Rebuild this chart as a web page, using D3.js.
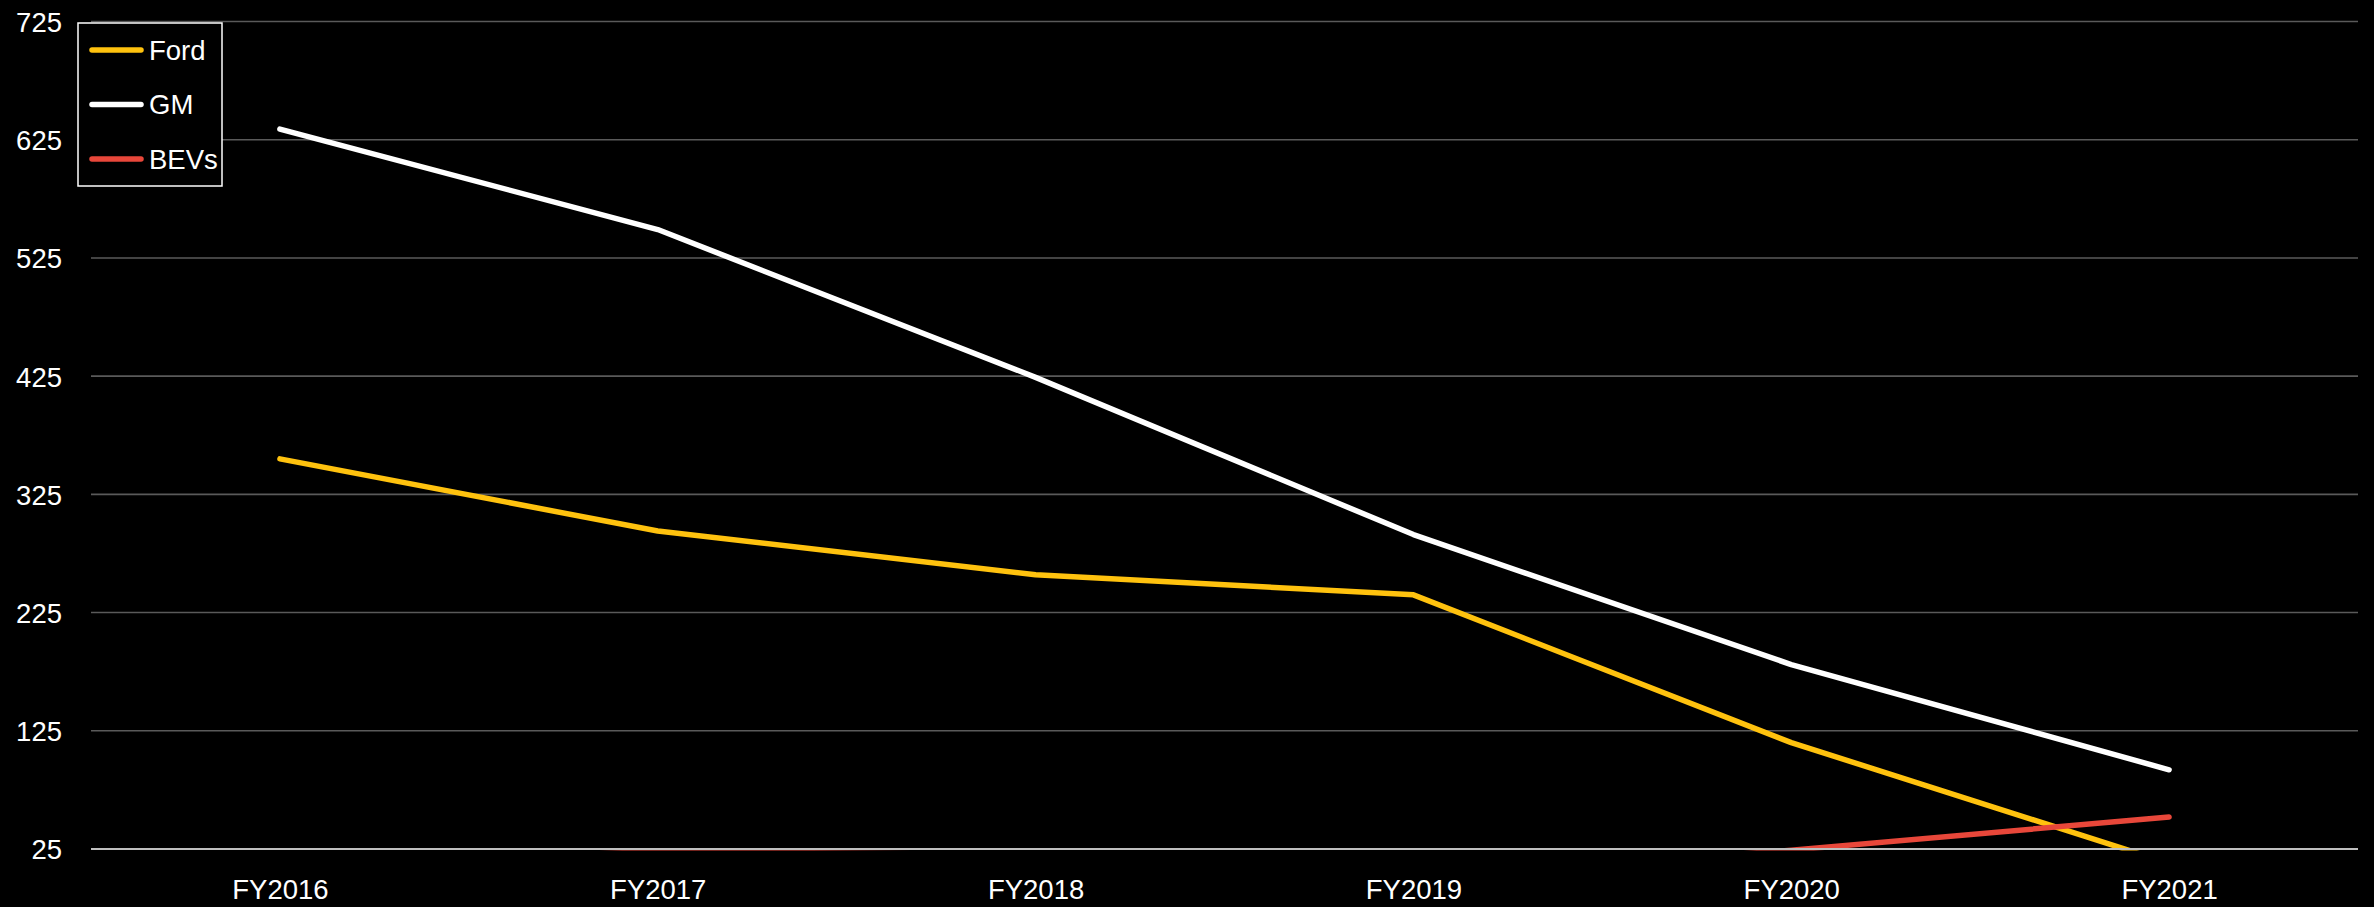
<!DOCTYPE html>
<html>
<head>
<meta charset="utf-8">
<script src="https://cdn.jsdelivr.net/npm/d3@7"></script>
<style>
  html, body { margin: 0; padding: 0; background: #000; }
  svg { display: block; }
  text { font-family: "Liberation Sans", Arial, sans-serif; fill: #fff; }
</style>
</head>
<body>
<svg id="chart" width="2374" height="907"></svg>
<script>
const categories = ["FY2016", "FY2017", "FY2018", "FY2019", "FY2020", "FY2021"];
const fordValues = [355, 294, 257, 240, 115, 13];
const gmValues   = [634, 549, 424, 291, 181, 92];
const bevValues  = [10, 23, 20, 0, 24, 52];
const yTicks = [25, 125, 225, 325, 425, 525, 625, 725];
const seriesNames = ["Ford", "GM", "BEVs"];
const seriesColors = ["#FFC20E", "#FFFFFF", "#E8473A"];

const series = [
  { name: seriesNames[0], values: fordValues, color: seriesColors[0] },
  { name: seriesNames[1], values: gmValues,   color: seriesColors[1] },
  { name: seriesNames[2], values: bevValues,  color: seriesColors[2] }
];

const W = 2374, H = 907;
const plot = { left: 91, right: 2358, top: 21.5, bottom: 849 };
const FS = 27.5;

const svg = d3.select("#chart");

const x = d3.scalePoint()
  .domain(categories)
  .range([plot.left, plot.right])
  .padding(0.5);

const y = d3.scaleLinear()
  .domain([25, 725])
  .range([plot.bottom, plot.top]);

// gridlines
const grid = svg.append("g");
grid.selectAll("line")
  .data(yTicks.filter(d => d !== 25))
  .join("line")
  .attr("x1", plot.left).attr("x2", plot.right)
  .attr("y1", d => y(d)).attr("y2", d => y(d))
  .attr("stroke", "#5a5a5a")
  .attr("stroke-width", 1.6);

// y axis labels
const yAxis = d3.axisLeft(y).tickValues(yTicks).tickSize(0).tickPadding(0);
const yg = svg.append("g")
  .attr("transform", `translate(62,0)`)
  .call(yAxis);
yg.select(".domain").remove();
yg.selectAll("text")
  .attr("font-size", FS)
  .attr("fill", "#fff")
  .attr("font-family", "Liberation Sans, Arial, sans-serif")
  .attr("dy", "0.36em");

// clip
svg.append("clipPath").attr("id", "plotclip")
  .append("rect")
  .attr("x", plot.left - 5).attr("y", 0)
  .attr("width", plot.right - plot.left + 10)
  .attr("height", plot.bottom + 1.5);

// lines
const line = d3.line()
  .x((d, i) => x(categories[i]))
  .y(d => y(d));

const lg = svg.append("g").attr("clip-path", "url(#plotclip)");
[series[1], series[0], series[2]].forEach(s => {
  lg.append("path")
    .datum(s.values)
    .attr("d", line)
    .attr("fill", "none")
    .attr("stroke", s.color)
    .attr("stroke-width", 5.5)
    .attr("stroke-linejoin", "round")
    .attr("stroke-linecap", "round");
});

// bottom axis line
const xAxis = d3.axisBottom(x).tickSize(0).tickPadding(0);
const xg = svg.append("g")
  .attr("transform", `translate(0,${plot.bottom})`)
  .call(xAxis);
xg.select(".domain")
  .attr("d", `M${plot.left},0H${plot.right}`)
  .attr("stroke", "#BFBFBF")
  .attr("stroke-width", 1.8);
xg.selectAll("text")
  .attr("font-size", FS)
  .attr("fill", "#fff")
  .attr("font-family", "Liberation Sans, Arial, sans-serif")
  .attr("y", 50)
  .attr("dy", 0);

// legend
const legend = svg.append("g");
legend.append("rect")
  .attr("x", 78).attr("y", 23)
  .attr("width", 144).attr("height", 163)
  .attr("fill", "#000")
  .attr("stroke", "#fff")
  .attr("stroke-width", 1.5);
const ly = d3.scalePoint().domain(seriesNames).range([50, 159]);
series.forEach(s => {
  legend.append("line")
    .attr("x1", 92).attr("x2", 141)
    .attr("y1", ly(s.name)).attr("y2", ly(s.name))
    .attr("stroke", s.color)
    .attr("stroke-width", 5.5)
    .attr("stroke-linecap", "round");
  legend.append("text")
    .attr("x", 149).attr("y", ly(s.name))
    .attr("dy", "0.36em")
    .attr("font-size", FS)
    .text(s.name);
});
</script>
</body>
</html>
